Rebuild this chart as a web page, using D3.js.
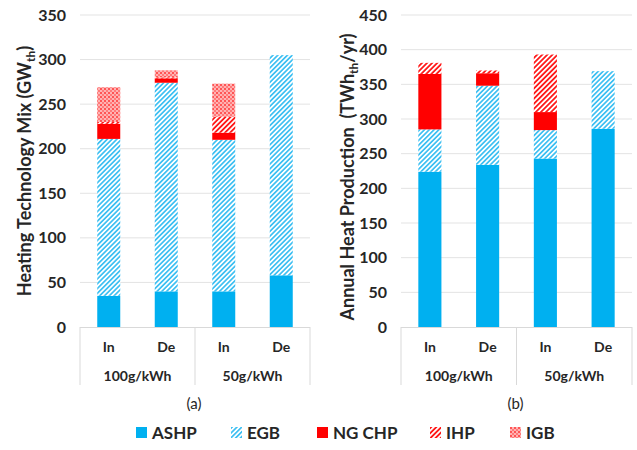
<!DOCTYPE html>
<html>
<head>
<meta charset="utf-8">
<script src="https://cdn.jsdelivr.net/npm/d3@7"></script>
<style>
  body { margin: 0; background: #fff; }
  svg text { font-family: Lato, "Open Sans", sans-serif; font-weight: bold; fill: #262626; }
</style>
</head>
<body>
<div id="chart"></div>
<script>
// categories
const groups = ["100g/kWh", "50g/kWh"];
const cases = ["In", "De"];
const techs = ["ASHP", "EGB", "NG CHP", "IHP", "IGB"];

// (a) heating technology mix, GWth  - one value per bar (100g In, 100g De, 50g In, 50g De)
const capASHP  = [35, 40, 40, 58];
const capEGB   = [176, 234, 170, 247];
const capNGCHP = [17, 5, 8, 0];
const capIHP   = [2, 1, 18, 0];
const capIGB   = [39, 8, 37, 0];
const capTicks = [0, 50, 100, 150, 200, 250, 300, 350];

// (b) annual heat production, TWhth/yr
const heatASHP  = [224, 234, 243, 286];
const heatEGB   = [61, 114, 41, 83];
const heatNGCHP = [80, 18, 26, 0];
const heatIHP   = [16, 4, 83, 0];
const heatIGB   = [0, 0, 0, 0];
const heatTicks = [0, 50, 100, 150, 200, 250, 300, 350, 400, 450];

const fills = {"ASHP": "#00b0f0", "EGB": "url(#pEGB)", "NG CHP": "#ff0000", "IHP": "url(#pIHP)", "IGB": "url(#pIGB)"};

function toRows(series) {
    // build rows for d3.stack
    let rows = [];
    groups.forEach((g, gi) => {
        cases.forEach((c, ci) => {
            let i = gi * cases.length + ci;
            let o = {key: g + "|" + c, group: g, kase: c};
            techs.forEach((t, ti) => { o[t] = series[ti][i]; });
            rows.push(o);
        });
    });
    return rows;
}

const svg = d3.select("#chart").append("svg")
    .attr("width", 637).attr("height", 450);

// patterns
const defs = svg.append("defs");
function stripes(id, color, w) {
    let p = defs.append("pattern").attr("id", id)
        .attr("patternUnits", "userSpaceOnUse")
        .attr("width", w).attr("height", w)
        .attr("patternTransform", "rotate(45)");
    p.append("rect").attr("width", w).attr("height", w).attr("fill", "#fff");
    p.append("rect").attr("width", w / 2).attr("height", w).attr("fill", color);
}
stripes("pEGB", "#3fc0f2", 3.4);
stripes("pIHP", "#ff1a1a", 3.6);
let pg = defs.append("pattern").attr("id", "pIGB")
    .attr("patternUnits", "userSpaceOnUse").attr("width", 4).attr("height", 4);
pg.append("rect").attr("width", 4).attr("height", 4).attr("fill", "#ffb3b3");
pg.append("rect").attr("width", 2).attr("height", 2).attr("fill", "#ff5555");
pg.append("rect").attr("x", 2).attr("y", 2).attr("width", 2).attr("height", 2).attr("fill", "#ff7a7a");

function panel(opts) {
    const {x0, x1, yTop, yBot, series, ticks, max, title, label} = opts;
    const g = svg.append("g");
    const rows = toRows(series);

    const x = d3.scaleBand().domain(rows.map(d => d.key)).range([x0, x1]).paddingInner(0.6).paddingOuter(0.3);
    const y = d3.scaleLinear().domain([0, max]).range([yBot, yTop]);

    // gridlines
    g.selectAll(".grid").data(ticks.slice(1)).enter().append("line")
        .attr("x1", x0).attr("x2", x1)
        .attr("y1", d => y(d)).attr("y2", d => y(d))
        .attr("stroke", "#e3e3e3").attr("stroke-width", 1);

    // y axis labels
    const ya = g.append("g").attr("transform", `translate(${x0},0)`)
        .call(d3.axisLeft(y).tickValues(ticks).tickSize(0).tickPadding(14));
    ya.select(".domain").remove();
    ya.selectAll("text").style("font-size", "16px").style("fill", "#262626");

    // stacked bars
    const stack = d3.stack().keys(techs)(rows);
    g.selectAll(".layer").data(stack).enter().append("g")
        .attr("fill", d => fills[d.key])
        .selectAll("rect").data(d => d).enter().append("rect")
            .attr("x", d => x(d.data.key))
            .attr("y", d => y(d[1]))
            .attr("width", x.bandwidth())
            .attr("height", d => y(d[0]) - y(d[1]));

    // category axis - case labels, group labels and separators
    g.append("line").attr("x1", x0).attr("x2", x1).attr("y1", yBot + 0.5).attr("y2", yBot + 0.5)
        .attr("stroke", "#d9d9d9");
    const gw = (x1 - x0) / groups.length;
    d3.range(groups.length + 1).forEach(i => {
        g.append("line").attr("x1", x0 + i * gw).attr("x2", x0 + i * gw)
            .attr("y1", yBot).attr("y2", yBot + 58).attr("stroke", "#d9d9d9");
    });
    g.selectAll(".case").data(rows).enter().append("text")
        .attr("x", d => x(d.key) + x.bandwidth() / 2)
        .attr("y", yBot + 25)
        .attr("text-anchor", "middle").style("font-size", "14px")
        .text(d => d.kase);
    g.selectAll(".grp").data(groups).enter().append("text")
        .attr("x", (d, i) => x0 + gw * (i + 0.5))
        .attr("y", yBot + 54)
        .attr("text-anchor", "middle").style("font-size", "14px")
        .text(d => d);

    // panel label
    g.append("text").attr("x", (x0 + x1) / 2 - 1).attr("y", yBot + 82)
        .attr("text-anchor", "middle").style("font-size", "15px").style("font-weight", "normal")
        .text(label);

    // y title with subscript
    const t = g.append("text")
        .attr("transform", `translate(${opts.titleX},${opts.titleY}) rotate(-90)`)
        .attr("text-anchor", "middle").style("font-size", "18px");
    title.forEach(part => {
        let s = t.append("tspan").text(part.t);
        if (part.sub) s.style("font-size", "12px").attr("dy", 4);
        if (part.up) s.attr("dy", -4);
    });
}

panel({
    x0: 80, x1: 310, yTop: 15, yBot: 327, max: 350, ticks: capTicks,
    series: [capASHP, capEGB, capNGCHP, capIHP, capIGB],
    title: [{t: "Heating Technology Mix (GW"}, {t: "th", sub: true}, {t: ")", up: true}],
    titleX: 31, titleY: 171, label: "(a)"
});
panel({
    x0: 401, x1: 632, yTop: 15, yBot: 327, max: 450, ticks: heatTicks,
    series: [heatASHP, heatEGB, heatNGCHP, heatIHP, heatIGB],
    title: [{t: "Annual Heat Production\u00a0\u00a0(TWh"}, {t: "th", sub: true}, {t: "/yr)", up: true}],
    titleX: 354, titleY: 177, label: "(b)"
});

// legend
const legX = [136, 231, 317, 430, 510];
const leg = svg.append("g").selectAll("g").data(techs).enter().append("g")
    .attr("transform", (d, i) => `translate(${legX[i]},427)`);
leg.append("rect").attr("width", 11).attr("height", 11).attr("fill", d => fills[d]);
leg.append("text").attr("x", 16).attr("y", 11.5).style("font-size", "17px").text(d => d);
</script>
</body>
</html>
